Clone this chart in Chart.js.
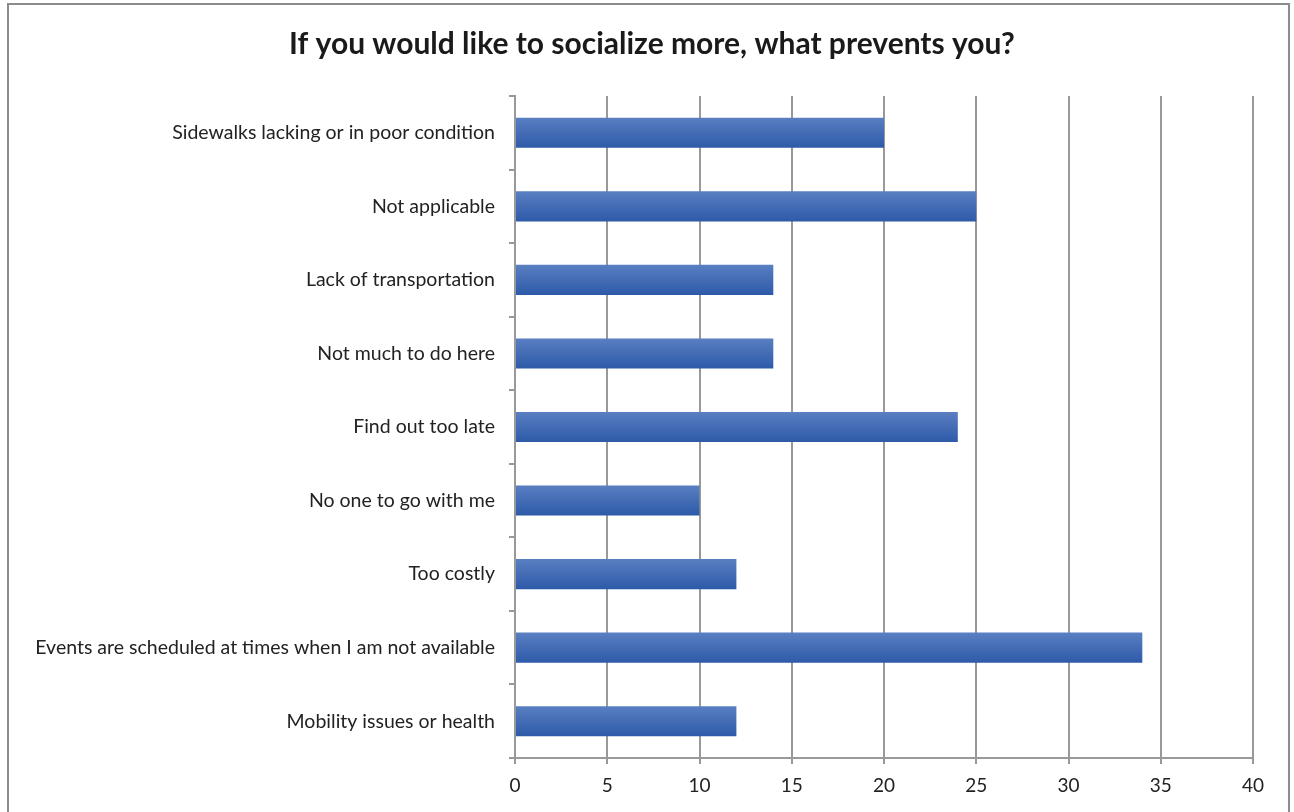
<!DOCTYPE html>
<html><head><meta charset="utf-8">
<script src="https://cdn.jsdelivr.net/npm/chart.js@4"></script>
<style>
html,body{margin:0;padding:0;background:#fff;overflow:hidden;width:1294px;height:812px}
#frame{position:absolute;left:7px;top:3px;width:1283px;height:840px;border:2px solid #8c8c8c;box-sizing:border-box}
#wrap{position:absolute;left:0;top:0;width:1294px;height:812px}
</style></head><body>
<div id="frame"></div>
<div id="wrap"><canvas id="c" width="1294" height="812"></canvas></div>
<script>
const categories = ["Sidewalks lacking or in poor condition","Not applicable","Lack of transportation","Not much to do here","Find out too late","No one to go with me","Too costly","Events are scheduled at times when I am not available","Mobility issues or health"];
const values = [20,25,14,14,24,10,12,34,12];
const xTicks = [0,5,10,15,20,25,30,35,40];
const title = "If you would like to socialize more, what prevents you?";

const FONT = "Lato, 'Open Sans', 'Liberation Sans', sans-serif";
function barFill(ctx){
  const chart = ctx.chart;
  const ys = chart.scales && chart.scales.y;
  if(!ys || ctx.dataIndex === undefined) return '#3f67b3';
  const c = ys.getPixelForValue(ctx.dataIndex);
  const band = ys.height / categories.length;
  const h = band * 0.41 / 2;
  if(!isFinite(c) || !isFinite(h) || h <= 0) return '#3f67b3';
  const g = chart.ctx.createLinearGradient(0, c - h, 0, c + h);
  g.addColorStop(0, '#5a7fc2');
  g.addColorStop(1, '#2d5aa8');
  return g;
}
const titlePlugin = {
  id: 'centerTitle',
  afterDraw(chart){
    const c = chart.ctx;
    c.save();
    c.font = "bold 30px " + FONT;
    c.fillStyle = '#1a1a1a';
    c.textAlign = 'center';
    c.textBaseline = 'middle';
    c.fillText(title, 652, 44);
    c.restore();
  }
};
new Chart(document.getElementById('c'), {
  type: 'bar',
  data: { labels: categories, datasets: [{ data: values, backgroundColor: barFill, borderWidth: 0, barPercentage: 0.45, categoryPercentage: 0.91 }] },
  plugins: [titlePlugin],
  options: {
    indexAxis: 'y', responsive: false, animation: false,
    layout: { padding: { top: 96, left: 0, right: 41, bottom: 0 } },
    plugins: {
      legend: { display: false }, tooltip: { enabled: false }, title: { display: false }
    },
    scales: {
      x: {
        min: 0, max: 40,
        afterBuildTicks: s => { s.ticks = xTicks.map(v => ({ value: v })); },
        afterFit: s => { s.height = 54; },
        grid: { color: '#999', lineWidth: 2, tickLength: 6, drawTicks: true },
        border: { color: '#999', width: 2 },
        ticks: { color: '#222', font: { family: FONT, size: 19 }, padding: 10 }
      },
      y: {
        afterFit: s => { s.width = 515; },
        grid: { drawOnChartArea: false, color: '#999', lineWidth: 2, tickLength: 6, offset: true },
        border: { color: '#999', width: 2 },
        ticks: { color: '#222', font: { family: FONT, size: 19.5 }, padding: 14 }
      }
    }
  }
});
</script>
</body></html>
